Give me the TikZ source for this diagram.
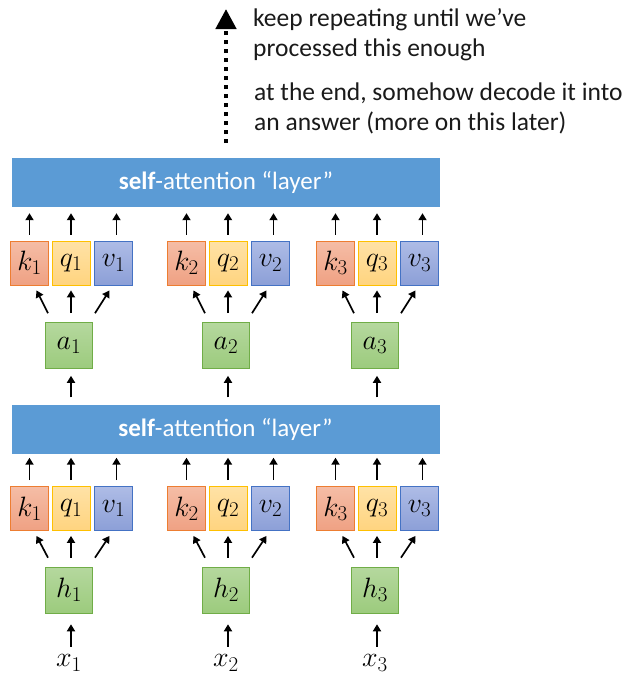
\RequirePackage{fix-cm}
\documentclass[tikz,border=0pt]{standalone}
\usepackage[no-math]{fontspec}
\setmainfont{Carlito}
\usetikzlibrary{arrows.meta}
\DeclareMathSizes{28}{28}{21}{16}
\definecolor{layerblue}{HTML}{5B9BD5}
\definecolor{kdraw}{HTML}{ED7D31}
\definecolor{ktop}{HTML}{F5BDA6}
\definecolor{kbot}{HTML}{EFA183}
\definecolor{qdraw}{HTML}{FFC000}
\definecolor{qtop}{HTML}{FFE2A6}
\definecolor{qbot}{HTML}{FFD47F}
\definecolor{vdraw}{HTML}{4472C4}
\definecolor{vtop}{HTML}{AEBCE6}
\definecolor{vbot}{HTML}{8C9FD7}
\definecolor{gdraw}{HTML}{70AD47}
\definecolor{gtop}{HTML}{B5D89E}
\definecolor{gbot}{HTML}{9CCB7D}
\definecolor{ink}{HTML}{1A1A1A}
\tikzset{
  layerbox/.style={fill=layerblue, minimum width=428pt, minimum height=49pt, inner sep=0pt,
    text=white, font=\fontsize{25}{30}\selectfont},
  vbox/.style={minimum width=38pt, minimum height=44pt, inner sep=0pt, line width=0.8pt,
    font=\fontsize{28}{32}\selectfont},
  kbox/.style={vbox, draw=kdraw, top color=ktop, bottom color=kbot},
  qbox/.style={vbox, draw=qdraw, top color=qtop, bottom color=qbot},
  vvbox/.style={vbox, draw=vdraw, top color=vtop, bottom color=vbot},
  gbox/.style={vbox, minimum width=47pt, minimum height=46pt, line width=0.6pt, draw=gdraw, top color=gtop, bottom color=gbot},
  arr/.style={draw=black, line width=1.7pt, -{Triangle[length=7pt,width=8pt]}},
  note/.style={anchor=base west, align=left, text=ink, inner sep=0pt, font=\fontsize{25.5}{30}\selectfont},
  xlab/.style={inner sep=0pt, font=\fontsize{28}{32}\selectfont}
}
\begin{document}
\begin{tikzpicture}[x=1pt,y=-1pt]
\useasboundingbox (0,0) rectangle (628,680);
% layers
\node[layerbox] (L1) at (226,182.5) {\textbf{self}-attention “layer”};
\node[layerbox] (L2) at (225.5,429) {\textbf{self}-attention “layer”};
% groups
\foreach \i/\g in {1/71,2/228,3/377}{
  % upper
  \node[kbox]  (k\i)  at (\g-41.5,263) {$k_\i$};
  \node[qbox]  (q\i)  at (\g,263) {$q_\i$};
  \node[vvbox] (v\i)  at (\g+42.5,263) {$v_\i$};
  \node[gbox]  (a\i)  at (\g-2,345.5) {$a_\i$};
  % lower
  \node[kbox]  (bk\i) at (\g-41.5,508.5) {$k_\i$};
  \node[qbox]  (bq\i) at (\g,508.5) {$q_\i$};
  \node[vvbox] (bv\i) at (\g+42.5,508.5) {$v_\i$};
  \node[gbox]  (h\i)  at (\g-2,590) {$h_\i$};
  \node[xlab]  (x\i)  at (\g-2,663) {$x_\i$};
  % upper arrows
  \draw[arr, shorten <=6pt, shorten >=6pt] (k\i.north) -- (k\i.north |- L1.south);
  \draw[arr, shorten <=6pt, shorten >=6pt] (q\i.north) -- (q\i.north |- L1.south);
  \draw[arr, shorten <=6pt, shorten >=6pt] ([xshift=3pt]v\i.north) -- ([xshift=3pt]v\i.north |- L1.south);
  \draw[arr] ([xshift=-21pt,yshift=9pt]a\i.north) -- ([xshift=7pt,yshift=-5pt]k\i.south);
  \draw[arr] ([xshift=2pt,yshift=9pt]a\i.north) -- ([yshift=-5pt]q\i.south);
  \draw[arr] ([xshift=26pt,yshift=9pt]a\i.north) -- ([xshift=-4pt,yshift=-5pt]v\i.south);
  \draw[arr, shorten <=7pt, shorten >=7pt] ([xshift=2pt]a\i.south |- L2.north) -- ([xshift=2pt]a\i.south);
  % lower arrows
  \draw[arr, shorten <=6pt, shorten >=4pt] (bk\i.north) -- (bk\i.north |- L2.south);
  \draw[arr, shorten <=6pt, shorten >=4pt] (bq\i.north) -- (bq\i.north |- L2.south);
  \draw[arr, shorten <=6pt, shorten >=4pt] ([xshift=3pt]bv\i.north) -- ([xshift=3pt]bv\i.north |- L2.south);
  \draw[arr] ([xshift=-21pt,yshift=9pt]h\i.north) -- ([xshift=7pt,yshift=-5pt]bk\i.south);
  \draw[arr] ([xshift=2pt,yshift=9pt]h\i.north) -- ([yshift=-5pt]bq\i.south);
  \draw[arr] ([xshift=26pt,yshift=9pt]h\i.north) -- ([xshift=-4pt,yshift=-5pt]bv\i.south);
  \draw[arr, shorten <=8pt, shorten >=11pt] ([xshift=2pt]x\i.north) -- ([xshift=2pt]h\i.south);
}
% dotted repeat arrow
\coordinate (dBot) at (226,143);
\coordinate (dTop) at (226,9);
\draw[line width=4.5pt, dash pattern=on 4.5pt off 4.5pt,
  -{Triangle[length=20pt,width=20pt]}] (dBot) -- (dTop);
\node[note] (n1) at (253,56) {keep repeating until we’ve\\processed this enough};
\node[note] (n2) at (254,130) {at the end, somehow decode it into\\an answer (more on this later)};
\end{tikzpicture}
\end{document}
